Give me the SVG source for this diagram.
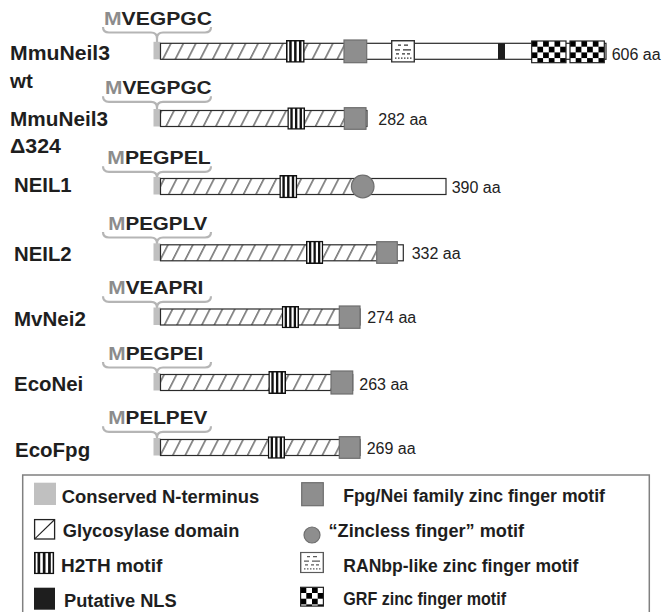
<svg xmlns="http://www.w3.org/2000/svg" xmlns:xlink="http://www.w3.org/1999/xlink" width="662" height="612" viewBox="0 0 662 612">
<style>
.lbl{font-family:"Liberation Sans",Arial,sans-serif;font-weight:bold;font-size:20.5px;fill:#1e1e1e}
.seq{font-family:"Liberation Sans",Arial,sans-serif;font-weight:bold;font-size:18.5px;fill:#222}
.m{fill:#8c8c8c}
.aa{font-family:"Liberation Sans",Arial,sans-serif;font-size:16px;fill:#222}
.leg{font-family:"Liberation Sans",Arial,sans-serif;font-weight:bold;font-size:18px;fill:#1e1e1e}
.barbg{fill:#fff}
.bar{fill:none;stroke:#2a2a2a;stroke-width:1.2}
.hatch{fill:url(#hatch)}
.zf{fill:#8e8e8e;stroke:#6e6e6e;stroke-width:1.2}
.nt{fill:#c0c0c0}
.nls{fill:#1e1e1e}
.brace{fill:none;stroke:#b5b5b5;stroke-width:2.2;stroke-linejoin:round}
.grf{fill:url(#checker);stroke:#222;stroke-width:1.2}
</style>
<defs>
<pattern id="hatch" patternUnits="userSpaceOnUse" width="11.1" height="10" patternTransform="rotate(27)">
<line x1="5.5" y1="0" x2="5.5" y2="10" stroke="#222" stroke-width="1"/>
</pattern>
<pattern id="checker" patternUnits="userSpaceOnUse" width="11.4" height="11.4">
<rect width="11.4" height="11.4" fill="#fff"/>
<rect width="5.7" height="5.7" fill="#000"/>
<rect x="5.7" y="5.7" width="5.7" height="5.7" fill="#000"/>
</pattern>
<symbol id="h2th" viewBox="0 0 18 23" preserveAspectRatio="none">
<rect x="0.75" y="0.75" width="16.5" height="21.5" fill="#fff" stroke="#111" stroke-width="1.5"/>
<rect x="3.1" y="0.75" width="2.4" height="21.5" fill="#111"/>
<rect x="7.8" y="0.75" width="2.4" height="21.5" fill="#111"/>
<rect x="12.5" y="0.75" width="2.4" height="21.5" fill="#111"/>
</symbol>
<symbol id="ranbp" viewBox="0 0 24 22" preserveAspectRatio="none">
<rect x="0.7" y="0.7" width="22.6" height="20.6" fill="#fff" stroke="#333" stroke-width="1.4"/>
<path d="M7,5H10M13,5H17M4,9.5H9M12,9.5H20M5,13.5H8M11,13.5H14M16,13.5H19M4,17.5H5.5M7,17.5H8.5M10,17.5H11.5M13,17.5H14.5M16,17.5H17.5M19,17.5H20.5" stroke="#333" stroke-width="1.3" fill="none"/>
</symbol>
</defs>

<g id="connectors">
<path class="brace" d="M103,27 Q103,32.5 109,32.5 H151 Q157,32.5 157,38.5 Q157,32.5 163,32.5 H205 Q211,32.5 211,27 M157,38.5 V43"/>
<path class="brace" d="M103,96.3 Q103,101.8 109,101.8 H151 Q157,101.8 157,107.8 Q157,101.8 163,101.8 H205 Q211,101.8 211,96.3 M157,107.8 V110"/>
<path class="brace" d="M103,166.3 Q103,171.8 109,171.8 H151 Q157,171.8 157,177.8 Q157,171.8 163,171.8 H205 Q211,171.8 211,166.3"/>
<path class="brace" d="M103,232 Q103,237.5 109,237.5 H151 Q157,237.5 157,243.5 Q157,237.5 163,237.5 H205 Q211,237.5 211,232"/>
<path class="brace" d="M103,296.3 Q103,301.8 109,301.8 H151 Q157,301.8 157,307.8 Q157,301.8 163,301.8 H205 Q211,301.8 211,296.3"/>
<path class="brace" d="M103,362 Q103,367.5 109,367.5 H151 Q157,367.5 157,373.5 Q157,367.5 163,367.5 H205 Q211,367.5 211,362"/>
<path class="brace" d="M103,426.3 Q103,431.8 109,431.8 H151 Q157,431.8 157,437.8 Q157,431.8 163,431.8 H205 Q211,431.8 211,426.3"/>
</g>

<g id="mmuneil3-wt">
<text class="lbl" x="10" y="60" textLength="100" lengthAdjust="spacingAndGlyphs">MmuNeil3</text>
<text class="lbl" x="10" y="87.5">wt</text>
<text class="seq" x="104" y="25" textLength="108" lengthAdjust="spacingAndGlyphs"><tspan class="m">M</tspan>VEGPGC</text>
<rect class="nt" x="153.5" y="41.8" width="7" height="17.5"/>
<rect class="barbg" x="160.5" y="43.3" width="445.5" height="16"/>
<rect class="hatch" x="160.5" y="43.3" width="183.5" height="16"/>
<rect class="bar" x="160.5" y="43.3" width="445.5" height="16"/>
<use href="#h2th" x="286" y="40" width="18.7" height="22.7"/>
<rect class="zf" x="344" y="40" width="22.7" height="22.7"/>
<use href="#ranbp" x="391" y="40" width="24" height="22.7"/>
<rect class="nls" x="498" y="43.3" width="7" height="16"/>
<g transform="translate(531.7,41)"><rect class="grf" x="0" y="0" width="34.3" height="21.7"/></g>
<g transform="translate(570,41)"><rect class="grf" x="0" y="0" width="34.3" height="21.7"/></g>
<text class="aa" x="611.7" y="59.5">606 aa</text>
</g>

<g id="mmuneil3-d324">
<text class="lbl" x="10" y="126" textLength="98" lengthAdjust="spacingAndGlyphs">MmuNeil3</text>
<text class="lbl" x="10" y="152.7" textLength="51" lengthAdjust="spacingAndGlyphs">Δ324</text>
<text class="seq" x="105" y="94.3" textLength="106.7" lengthAdjust="spacingAndGlyphs"><tspan class="m">M</tspan>VEGPGC</text>
<rect class="nt" x="153.5" y="109" width="7" height="17.5"/>
<rect class="barbg" x="160.5" y="110.5" width="206.5" height="16"/>
<rect class="hatch" x="160.5" y="110.5" width="183.8" height="16"/>
<rect class="bar" x="160.5" y="110.5" width="206.5" height="16"/>
<use href="#h2th" x="287.3" y="107.3" width="17.7" height="22.4"/>
<rect class="zf" x="344.3" y="107.7" width="21.7" height="21.6"/>
<text class="aa" x="378.3" y="125">282 aa</text>
</g>

<g id="neil1">
<text class="lbl" x="14" y="191.7" textLength="57.7" lengthAdjust="spacingAndGlyphs">NEIL1</text>
<text class="seq" x="107.3" y="164.3" textLength="103.4" lengthAdjust="spacingAndGlyphs"><tspan class="m">M</tspan>PEGPEL</text>
<rect class="nt" x="153.5" y="177" width="7" height="17.5"/>
<rect class="barbg" x="160.5" y="178.5" width="285.5" height="16"/>
<rect class="hatch" x="160.5" y="178.5" width="202" height="16"/>
<rect class="bar" x="160.5" y="178.5" width="285.5" height="16"/>
<use href="#h2th" x="279.3" y="175" width="18" height="23.3"/>
<circle class="zf" cx="362.7" cy="186.5" r="11.3"/>
<text class="aa" x="451.7" y="193">390 aa</text>
</g>

<g id="neil2">
<text class="lbl" x="14" y="261" textLength="57.7" lengthAdjust="spacingAndGlyphs">NEIL2</text>
<text class="seq" x="108.3" y="230" textLength="99" lengthAdjust="spacingAndGlyphs"><tspan class="m">M</tspan>PEGPLV</text>
<rect class="nt" x="153.5" y="243.3" width="7" height="17.5"/>
<rect class="barbg" x="160.5" y="244.8" width="242.8" height="16"/>
<rect class="hatch" x="160.5" y="244.8" width="216.2" height="16"/>
<rect class="bar" x="160.5" y="244.8" width="242.8" height="16"/>
<use href="#h2th" x="306" y="240.7" width="17.3" height="23.3"/>
<rect class="zf" x="376.7" y="241.7" width="20.6" height="21.6"/>
<text class="aa" x="411.7" y="258.5">332 aa</text>
</g>

<g id="mvnei2">
<text class="lbl" x="14" y="325.5">MvNei2</text>
<text class="seq" x="108.3" y="294.3" textLength="95" lengthAdjust="spacingAndGlyphs"><tspan class="m">M</tspan>VEAPRI</text>
<rect class="nt" x="153.5" y="307.5" width="7" height="17.5"/>
<rect class="barbg" x="160.5" y="309" width="199.5" height="16"/>
<rect class="hatch" x="160.5" y="309" width="178.8" height="16"/>
<rect class="bar" x="160.5" y="309" width="199.5" height="16"/>
<use href="#h2th" x="281.7" y="306" width="17.3" height="22.3"/>
<rect class="zf" x="339.3" y="306" width="20.7" height="22.3"/>
<text class="aa" x="367.3" y="323.3">274 aa</text>
</g>

<g id="econei">
<text class="lbl" x="14" y="391" textLength="69.3" lengthAdjust="spacingAndGlyphs">EcoNei</text>
<text class="seq" x="108.3" y="360" textLength="95" lengthAdjust="spacingAndGlyphs"><tspan class="m">M</tspan>PEGPEI</text>
<rect class="nt" x="153.5" y="373" width="7" height="17.5"/>
<rect class="barbg" x="160.5" y="374.5" width="192.2" height="16"/>
<rect class="hatch" x="160.5" y="374.5" width="170.5" height="16"/>
<rect class="bar" x="160.5" y="374.5" width="192.2" height="16"/>
<use href="#h2th" x="268.3" y="371" width="17.7" height="23"/>
<rect class="zf" x="331" y="371" width="21.7" height="23"/>
<text class="aa" x="359.3" y="389.5">263 aa</text>
</g>

<g id="ecofpg">
<text class="lbl" x="15" y="457">EcoFpg</text>
<text class="seq" x="108.3" y="424.3" textLength="99" lengthAdjust="spacingAndGlyphs"><tspan class="m">M</tspan>PELPEV</text>
<rect class="nt" x="153.5" y="438" width="7" height="17.5"/>
<rect class="barbg" x="160.5" y="439.5" width="199.5" height="16"/>
<rect class="hatch" x="160.5" y="439.5" width="178.8" height="16"/>
<rect class="bar" x="160.5" y="439.5" width="199.5" height="16"/>
<use href="#h2th" x="267.7" y="436.2" width="17.3" height="22.6"/>
<rect class="zf" x="339.3" y="436.7" width="20.7" height="21.6"/>
<text class="aa" x="366.7" y="454">269 aa</text>
</g>

<g id="legend">
<rect x="22.7" y="475" width="626.6" height="150" fill="none" stroke="#808080" stroke-width="1.5"/>
<rect class="nt" x="34" y="482.7" width="22" height="22.3"/>
<text class="leg" x="61.7" y="502.7" textLength="197.6" lengthAdjust="spacingAndGlyphs">Conserved N-terminus</text>
<rect x="34.6" y="519.6" width="20" height="19.4" fill="#fff" stroke="#222" stroke-width="1.3"/>
<line x1="35" y1="538.6" x2="54.2" y2="520" stroke="#222" stroke-width="1.1"/>
<text class="leg" x="62.7" y="536.7" textLength="176.6" lengthAdjust="spacingAndGlyphs">Glycosylase domain</text>
<use href="#h2th" x="34" y="551.7" width="20.3" height="22.6"/>
<text class="leg" x="61" y="572.3" textLength="101.3" lengthAdjust="spacingAndGlyphs">H2TH motif</text>
<rect class="nls" x="34" y="587.7" width="21" height="22"/>
<text class="leg" x="64" y="606.7" textLength="112.7" lengthAdjust="spacingAndGlyphs">Putative NLS</text>
<rect class="zf" x="301.7" y="482.7" width="21.6" height="23"/>
<text class="leg" x="343.3" y="501.7" textLength="261.7" lengthAdjust="spacingAndGlyphs">Fpg/Nei family zinc finger motif</text>
<circle class="zf" cx="312" cy="535" r="8"/>
<text class="leg" x="328.5" y="536.7" textLength="195.5" lengthAdjust="spacingAndGlyphs">“Zincless finger” motif</text>
<use href="#ranbp" x="300" y="551.7" width="24" height="21.6" opacity="0.8"/>
<text class="leg" x="343.3" y="571.7" textLength="235" lengthAdjust="spacingAndGlyphs">RANbp-like zinc finger motif</text>
<g transform="translate(300.6,587.3)"><rect class="grf" x="0" y="0" width="22.8" height="18.8"/></g>
<text class="leg" x="343.3" y="605" textLength="162.7" lengthAdjust="spacingAndGlyphs">GRF zinc finger motif</text>
</g>
</svg>
